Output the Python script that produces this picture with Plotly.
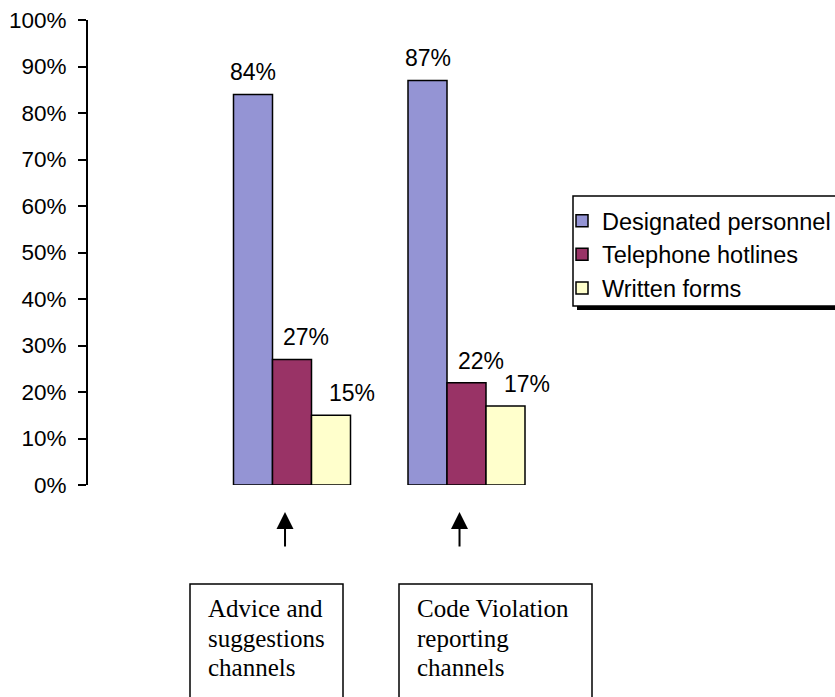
import plotly.graph_objects as go

# Data
series_names = ["Designated personnel", "Telephone hotlines", "Written forms"]
designated = [84, 87]
telephone = [27, 22]
written = [15, 17]
series_values = [designated, telephone, written]
series_colors = ["#9494d4", "#993366", "#ffffcc"]
label_xshift = [0, 14, 21]

channel_lines = [
    ["Advice and", "suggestions", "channels"],
    ["Code Violation", "reporting", "channels"],
]
y_ticks = [0, 10, 20, 30, 40, 50, 60, 70, 80, 90, 100]
y_tick_text = [f"{t}%" for t in y_ticks]

# Layout geometry (pixels)
W, H = 835, 697
PL, PR, PT, PB = 88, 560, 20, 485

SANS = "Liberation Sans, Arial"
SERIF = "Liberation Serif, Times New Roman"


def px_x(px):
    return (px - PL) / (PR - PL)


def px_y(py):
    return (PB - py) / (PB - PT)


positions = [0, 1]
bar_w = 0.2235

fig = go.Figure()
for i, (name, vals, col) in enumerate(zip(series_names, series_values, series_colors)):
    fig.add_trace(go.Bar(
        x=positions, y=vals, name=name, legendgroup=name,
        width=bar_w, offset=(i - 1.5) * bar_w,
        marker=dict(color=col, line=dict(color="black", width=1.5)),
        hoverinfo="skip",
    ))

annotations = []
# Value labels above bars
for i, vals in enumerate(series_values):
    for p, v in zip(positions, vals):
        annotations.append(dict(
            x=p + (i - 1) * bar_w, y=v, xref="x", yref="y",
            text=f"{v}%", showarrow=False, yanchor="bottom",
            yshift=7, xshift=label_xshift[i],
            font=dict(family=SANS, size=23, color="black"),
        ))

# Arrows pointing up at each group
for p in positions:
    annotations.append(dict(
        x=p - 0.04, y=px_y(512), xref="x", yref="paper",
        text="", showarrow=True, ax=0, ay=36,
        arrowhead=2, arrowsize=1.7, arrowwidth=2, arrowcolor="black",
    ))

# Channel description boxes
box_x = [(190, 343), (399, 592)]
line_y = [608, 638, 667]
shapes = []
for (x0, x1), lines in zip(box_x, channel_lines):
    shapes.append(dict(
        type="rect", xref="paper", yref="paper",
        x0=px_x(x0), x1=px_x(x1), y0=px_y(584), y1=px_y(720),
        line=dict(color="black", width=1.5), fillcolor="white", layer="above",
    ))
    for ly, txt in zip(line_y, lines):
        annotations.append(dict(
            x=px_x(x0 + 16), y=px_y(ly), xref="paper", yref="paper",
            text=txt, showarrow=False, xanchor="left", yanchor="middle",
            font=dict(family=SERIF, size=25, color="black"),
        ))

# Legend frame with drop shadow
shapes.append(dict(
    type="rect", xref="paper", yref="paper",
    x0=px_x(577), x1=px_x(860), y0=px_y(310), y1=px_y(200),
    line=dict(width=0), fillcolor="black", layer="above",
))
shapes.append(dict(
    type="rect", xref="paper", yref="paper",
    x0=px_x(573), x1=px_x(855), y0=px_y(306), y1=px_y(196),
    line=dict(color="black", width=1.5), fillcolor="white", layer="above",
))

fig.update_layout(
    width=W, height=H,
    margin=dict(l=PL, r=W - PR, t=PT, b=H - PB, autoexpand=False),
    paper_bgcolor="white", plot_bgcolor="white",
    barmode="overlay",
    showlegend=True,
    legend=dict(
        x=px_x(562), y=px_y(199), xanchor="left", yanchor="top",
        bgcolor="rgba(0,0,0,0)", borderwidth=0,
        font=dict(family=SANS, size=23.5, color="black"),
        traceorder="normal", tracegroupgap=3,
    ),
    xaxis=dict(
        range=[-(292 - PL) / 174.5, (PR - 292) / 174.5],
        visible=False, fixedrange=True,
    ),
    yaxis=dict(
        range=[0, 100], tickmode="array", tickvals=y_ticks, ticktext=y_tick_text,
        showgrid=False, zeroline=False,
        showline=True, linecolor="black", linewidth=2,
        ticks="outside", ticklen=8, tickwidth=2, tickcolor="black",
        ticklabelstandoff=7,
        tickfont=dict(family=SANS, size=22.5, color="black"),
    ),
    shapes=shapes,
    annotations=annotations,
)

fig.write_html("out.html")
